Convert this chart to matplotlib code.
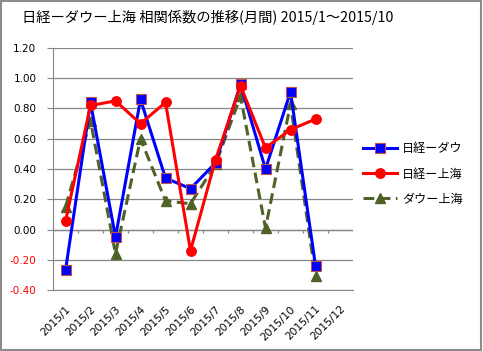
import matplotlib
matplotlib.use("Agg")
import matplotlib.pyplot as plt
from matplotlib.patches import Rectangle
import numpy as np

plt.rcParams['font.family'] = ['DejaVu Sans']
jp = ['Noto Sans CJK JP', 'DejaVu Sans']

months = ['2015/1', '2015/2', '2015/3', '2015/4', '2015/5', '2015/6',
          '2015/7', '2015/8', '2015/9', '2015/10', '2015/11', '2015/12']
nikkei_dow = [-0.27, 0.84, -0.05, 0.86, 0.34, 0.27, 0.44, 0.96, 0.40, 0.91, -0.24]
nikkei_sh = [0.055, 0.82, 0.85, 0.70, 0.84, -0.14, 0.46, 0.95, 0.54, 0.66, 0.73]
dow_sh = [0.15, 0.72, -0.16, 0.60, 0.19, 0.17, 0.43, 0.88, 0.01, 0.83, -0.31]
labels = ['日経ーダウ', '日経ー上海', 'ダウー上海']

fig = plt.figure(figsize=(4.83, 3.51), dpi=100)
ax = fig.add_axes([53 / 483, 1 - 290 / 351, 300 / 483, 242 / 351])

grid = '#868686'
x = np.arange(len(nikkei_dow))
ax.plot(x, nikkei_dow, color='#0000FF', lw=2.2, marker='s', ms=6.5,
        mfc='#0000FF', mec='#C0504D', mew=0.8, label=labels[0], zorder=3)
ax.plot(x, nikkei_sh, color='#FF0000', lw=2.2, marker='o', ms=6.8,
        mfc='#FF0000', mec='#FF0000', label=labels[1], zorder=4)
ax.plot(x, dow_sh, color='#4F6228', lw=2.2, ls=(0, (3.5, 1.8)), marker='^', ms=7,
        mfc='#4F6228', mec='#4F6228', label=labels[2], zorder=2)

ax.set_xlim(-0.5, len(months) - 0.5)
ax.set_ylim(-0.4, 1.2)
yt = np.arange(-0.4, 1.21, 0.2)
ax.set_yticks(yt)
ax.set_yticklabels([f'{v:.2f}' for v in yt])
for lab, v in zip(ax.get_yticklabels(), yt):
    lab.set_color('#FF0000' if v < -1e-9 else 'black')
ax.yaxis.grid(True, color=grid, lw=0.9)
ax.set_axisbelow(True)
ax.tick_params(axis='y', length=4, color=grid, labelsize=7.5, pad=8)

ax.set_xticks(np.arange(len(months)))
ax.set_xticklabels(months, rotation=45, ha='right', va='top', rotation_mode='anchor')
ax.tick_params(axis='x', length=0, labelsize=7.7, pad=10)

# category axis crossing at 0 with tick marks on category boundaries
ax.axhline(0, color=grid, lw=0.9, zorder=1)
ax.vlines(np.arange(-0.5, len(months)), -0.022, 0, color=grid, lw=0.9, zorder=1)

for s in ['top', 'right']:
    ax.spines[s].set_visible(False)
ax.spines['left'].set_color(grid)
ax.spines['bottom'].set_color(grid)

leg = ax.legend(loc='center left', bbox_to_anchor=(1.033, 0.479), frameon=False,
                prop={'family': jp, 'size': 8.7}, handlelength=2.8,
                handletextpad=0.45, labelspacing=1.0, borderaxespad=0, borderpad=0)

fig.text(22 / 483, 1 - 17 / 351, '日経ーダウー上海 相関係数の推移(月間) 2015/1～2015/10',
         family=jp, fontsize=10.3, va='center', ha='left')

fig.add_artist(Rectangle((0.002, 0.004), 0.994, 0.993, transform=fig.transFigure,
                         fill=False, ec='#8C8C8C', lw=1.5))

fig.savefig('out.png', dpi=100)
